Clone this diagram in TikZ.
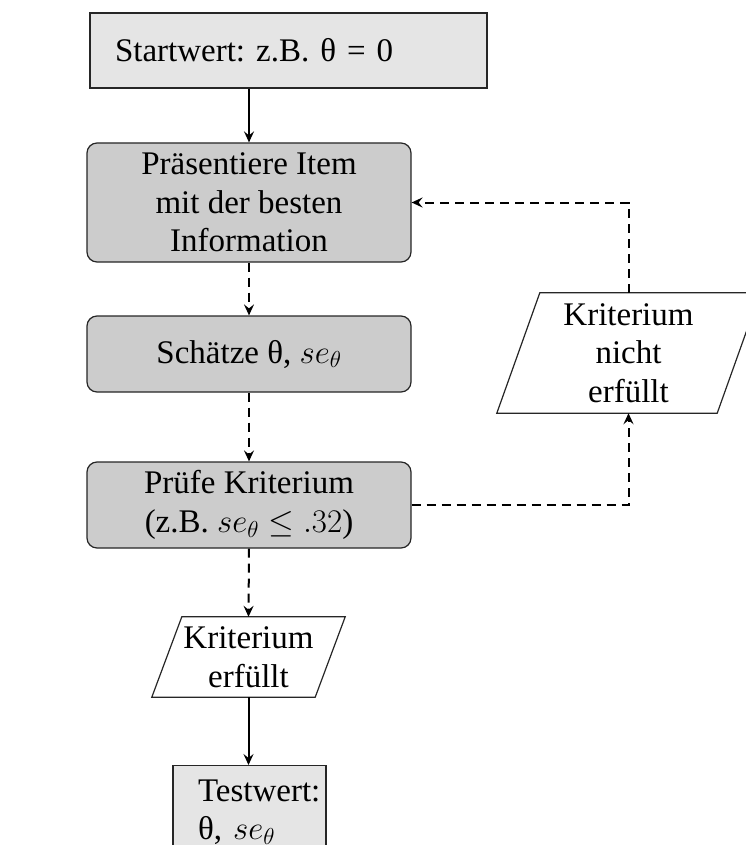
\RequirePackage{fix-cm}
\documentclass[tikz,border=0pt]{standalone}
\usepackage[no-math]{fontspec}
\setmainfont{Liberation Serif}
\usetikzlibrary{arrows.meta,calc}
\begin{document}
\frenchspacing
\begin{tikzpicture}[x=1pt,y=-1pt,
  every node/.style={font=\fontsize{33}{38.5}\selectfont},
  sqbox/.style={draw=black!85, line width=1.2pt, fill=black!10, align=left, inner xsep=25pt},
  rbox/.style={draw=black!85, line width=1.2pt, fill=black!20, rounded corners=10pt, minimum width=324pt, align=center},
  para/.style={align=center, inner sep=0pt},
  paraline/.style={draw=black!85, line width=1.2pt, fill=white},
  conn/.style={line width=2pt, -{Stealth[length=11pt,width=10pt,inset=4pt]}},
  dashconn/.style={conn, dash pattern=on 9pt off 6pt},
]
\useasboundingbox (0,0) rectangle (745,845);

% nodes
\node[sqbox, text width=347pt, minimum height=75pt] (start) at (288.5,50.5) {Startwert: z.B. θ = 0};
\node[rbox, minimum height=119pt] (pres) at (249,202.5) {Präsentiere Item\\mit der besten\\Information};
\node[rbox, minimum height=76pt] (schaetze) at (249,354) {Schätze θ, $se_\theta$};
\node[rbox, minimum height=86pt] (pruefe) at (249,505) {Prüfe Kriterium\\(z.B. $se_\theta \le .32$)};

\node[para, minimum width=263pt, minimum height=120pt] (nicht) at (628.5,353) {};
\draw[paraline] (nicht.south west) -- ($(nicht.south east)+(-43,0)$) -- (nicht.north east) -- ($(nicht.north west)+(43,0)$) -- cycle;
\node[para] (nichttext) at (nicht.center) {Kriterium\\nicht\\erfüllt};

\node[para, minimum width=193pt, minimum height=80pt] (erf) at (248.5,657) {};
\draw[paraline] (erf.south west) -- ($(erf.south east)+(-30,0)$) -- (erf.north east) -- ($(erf.north west)+(30,0)$) -- cycle;
\node[para] (erftext) at (erf.center) {Kriterium\\erfüllt};

\node[sqbox, text width=103pt, inner ysep=14pt, anchor=north] (test) at (249.5,765) {Testwert:\\θ, $se_\theta$};

% connectors
\draw[conn] (pres.north |- start.south) -- (pres.north);
\draw[dashconn] (pres.south) -- (schaetze.north);
\draw[dashconn] (schaetze.south) -- (pruefe.north);
\draw[dashconn] (pruefe.east) -| (nicht.south);
\draw[dashconn] (nicht.north) |- (pres.east);
\draw[dashconn] (pruefe.south) -- (erf.north);
\draw[conn] (erf.south) -- (erf.south |- test.north);
\end{tikzpicture}
\end{document}
